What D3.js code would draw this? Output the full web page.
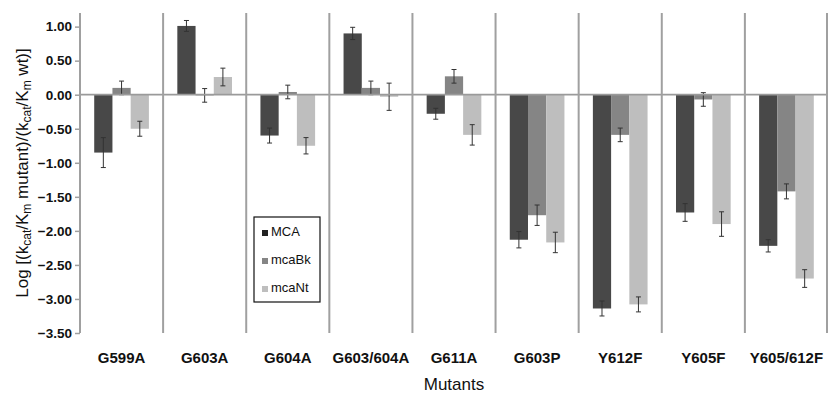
<!DOCTYPE html>
<html>
<head>
<meta charset="utf-8">
<script src="https://cdn.jsdelivr.net/npm/d3@7"></script>
<style>
  html, body { margin: 0; padding: 0; background: #fff; }
  svg { display: block; font-family: "Liberation Sans", Arial, sans-serif; }
</style>
</head>
<body>
<div id="chart"></div>
<script>
// values
var mutants = ['G599A', 'G603A', 'G604A', 'G603/604A', 'G611A', 'G603P', 'Y612F', 'Y605F', 'Y605/612F'];
var seriesNames = ['MCA', 'mcaBk', 'mcaNt'];
var mca = [-0.85, 1.01, -0.60, 0.90, -0.28, -2.13, -3.14, -1.73, -2.22];
var mcaErr = [0.22, 0.08, 0.11, 0.09, 0.08, 0.12, 0.11, 0.13, 0.09];
var mcaBk = [0.10, -0.01, 0.04, 0.10, 0.27, -1.77, -0.59, -0.07, -1.42];
var mcaBkErr = [0.10, 0.10, 0.10, 0.10, 0.10, 0.15, 0.10, 0.10, 0.11];
var mcaNt = [-0.50, 0.26, -0.75, -0.03, -0.59, -2.17, -3.08, -1.90, -2.70];
var mcaNtErr = [0.11, 0.13, 0.12, 0.20, 0.15, 0.15, 0.11, 0.18, 0.13];
var yTicks = [1.0, 0.5, 0.0, -0.5, -1.0, -1.5, -2.0, -2.5, -3.0, -3.5];

(function () {
  'use strict';

  var width = 829, height = 394;
  var margin = { top: 13, right: 1, bottom: 61, left: 80 };
  var colors = { MCA: '#484848', mcaBk: '#858585', mcaNt: '#bebebe' };
  var values = { MCA: mca, mcaBk: mcaBk, mcaNt: mcaNt };
  var errs = { MCA: mcaErr, mcaBk: mcaBkErr, mcaNt: mcaNtErr };

  var svg = d3.select('#chart').append('svg')
    .attr('width', width)
    .attr('height', height);

  var x0 = d3.scaleBand().domain(mutants)
    .range([margin.left, width - margin.right]).padding(0);
  var x1 = d3.scaleBand().domain(seriesNames)
    .range([0, x0.bandwidth()]).paddingInner(0).paddingOuter(0.78);
  var y = d3.scaleLinear().domain([-3.5, 1.2])
    .range([height - margin.bottom, margin.top]);

  // bars
  var groups = svg.append('g').selectAll('g')
    .data(mutants)
    .join('g')
    .attr('transform', function (d) { return 'translate(' + x0(d) + ',0)'; });

  groups.selectAll('rect')
    .data(function (m, i) {
      return seriesNames.map(function (s) { return { s: s, v: values[s][i], e: errs[s][i] }; });
    })
    .join('rect')
    .attr('x', function (d) { return x1(d.s); })
    .attr('width', x1.bandwidth())
    .attr('y', function (d) { return y(Math.max(0, d.v)); })
    .attr('height', function (d) { return Math.abs(y(d.v) - y(0)); })
    .attr('fill', function (d) { return colors[d.s]; });

  // y axis
  var yAxis = svg.append('g')
    .attr('transform', 'translate(' + margin.left + ',0)')
    .call(d3.axisLeft(y).tickValues(yTicks).tickFormat(d3.format('.2f')).tickSize(5).tickPadding(3));
  yAxis.select('.domain').remove();
  yAxis.selectAll('line').attr('stroke', '#a0a0a0').attr('stroke-width', 1.5);
  yAxis.selectAll('text')
    .attr('fill', '#111')
    .style('font-size', '13.5px')
    .style('font-weight', 'bold');

  // zero line
  svg.append('line')
    .attr('x1', margin.left).attr('x2', width - margin.right)
    .attr('y1', y(0)).attr('y2', y(0))
    .attr('stroke', '#9a9a9a').attr('stroke-width', 1.8);

  // group separators + left axis
  var bounds = mutants.map(function (m) { return x0(m); }).concat([x0.range()[1] - 1]);
  svg.append('g').selectAll('line')
    .data(bounds)
    .join('line')
    .attr('x1', function (d) { return d; }).attr('x2', function (d) { return d; })
    .attr('y1', y.range()[1]).attr('y2', y.range()[0])
    .attr('stroke', '#a0a0a0').attr('stroke-width', 2);

  // error bars
  var eb = groups.selectAll('g.err')
    .data(function (m, i) {
      return seriesNames.map(function (s) { return { s: s, v: values[s][i], e: errs[s][i] }; });
    })
    .join('g').attr('class', 'err')
    .attr('stroke', '#333').attr('stroke-width', 1);
  eb.append('line')
    .attr('x1', function (d) { return x1(d.s) + x1.bandwidth() / 2; })
    .attr('x2', function (d) { return x1(d.s) + x1.bandwidth() / 2; })
    .attr('y1', function (d) { return y(d.v + d.e); })
    .attr('y2', function (d) { return y(d.v - d.e); });
  [1, -1].forEach(function (sgn) {
    eb.append('line')
      .attr('x1', function (d) { return x1(d.s) + x1.bandwidth() / 2 - 2.5; })
      .attr('x2', function (d) { return x1(d.s) + x1.bandwidth() / 2 + 2.5; })
      .attr('y1', function (d) { return y(d.v + sgn * d.e); })
      .attr('y2', function (d) { return y(d.v + sgn * d.e); });
  });

  // x labels
  svg.append('g').selectAll('text')
    .data(mutants)
    .join('text')
    .attr('x', function (d) { return x0(d) + x0.bandwidth() / 2; })
    .attr('y', 363)
    .attr('text-anchor', 'middle')
    .style('font-size', '15px')
    .style('font-weight', 'bold')
    .attr('fill', '#111')
    .text(function (d) { return d; });

  // axis titles
  svg.append('text')
    .attr('x', (x0.range()[0] + x0.range()[1]) / 2)
    .attr('y', 390)
    .attr('text-anchor', 'middle')
    .style('font-size', '17px')
    .attr('fill', '#111')
    .text('Mutants');

  var yt = svg.append('text')
    .attr('transform', 'translate(28,' + ((y.range()[0] + y.range()[1]) / 2) + ') rotate(-90)')
    .attr('text-anchor', 'middle')
    .style('font-size', '17px')
    .attr('fill', '#111');
  var parts = [
    ['Log [(k', 0], ['cat', 1], ['/K', 0], ['m', 1], [' mutant)/(k', 0],
    ['cat', 1], ['/K', 0], ['m', 1], [' wt)]', 0]
  ];
  parts.forEach(function (p) {
    var t = yt.append('tspan').text(p[0]);
    if (p[1]) t.attr('baseline-shift', '-25%').style('font-size', '12px');
  });

  // legend
  var lg = svg.append('g');
  lg.append('rect')
    .attr('x', 254).attr('y', 217).attr('width', 66).attr('height', 85)
    .attr('fill', '#fff').attr('stroke', '#111').attr('stroke-width', 1.2);
  var legendColors = { MCA: '#222', mcaBk: colors.mcaBk, mcaNt: colors.mcaNt };
  seriesNames.forEach(function (s, i) {
    var by = 236 + i * 28;
    lg.append('rect')
      .attr('x', 262).attr('y', by - 6).attr('width', 6).attr('height', 6)
      .attr('fill', legendColors[s]);
    lg.append('text')
      .attr('x', 271).attr('y', by)
      .style('font-size', '13px')
      .attr('fill', '#111')
      .text(s);
  });
})();
</script>
</body>
</html>
